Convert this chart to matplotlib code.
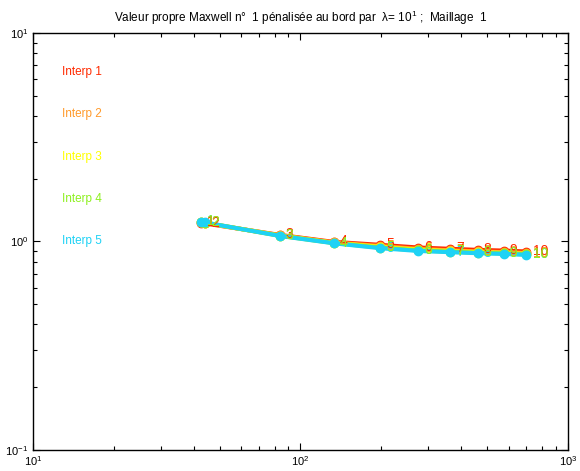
import numpy as np
import matplotlib
matplotlib.use("Agg")
import matplotlib.pyplot as plt

plt.rcParams["font.family"] = ["Liberation Sans", "DejaVu Sans"]
plt.rcParams["mathtext.default"] = "regular"

# =====================
# Data
# =====================

dof = [42.5, 43.8, 83.5, 133, 199, 276, 362, 460, 575, 700]

interp1 = [1.227, 1.22, 1.074, 0.994, 0.962, 0.934, 0.921, 0.910, 0.903, 0.894]
interp2 = [1.235, 1.226, 1.070, 0.988, 0.950, 0.920, 0.906, 0.895, 0.888, 0.879]
interp3 = [1.238, 1.229, 1.067, 0.985, 0.940, 0.912, 0.898, 0.888, 0.880, 0.871]
interp4 = [1.242, 1.231, 1.065, 0.982, 0.933, 0.905, 0.892, 0.882, 0.875, 0.866]
interp5 = [1.245, 1.233, 1.063, 0.980, 0.928, 0.900, 0.888, 0.878, 0.871, 0.862]

series = [interp1, interp2, interp3, interp4, interp5]
names = ["Interp 1", "Interp 2", "Interp 3", "Interp 4", "Interp 5"]
colors = ["#ff2a00", "#ff9a2a", "#ffff00", "#8ef020", "#1ed2f5"]

point_labels = [str(i + 1) for i in range(len(dof))]

# =====================
# Plot
# =====================

fig = plt.figure(figsize=(5.8, 4.71), dpi=100)
ax = fig.add_axes([0.057, 0.045, 0.922, 0.885])

for vals, col in zip(series, colors):
    ax.plot(dof, vals, "-o", color=col, lw=3, ms=6,
            markerfacecolor=col, markeredgecolor=col, zorder=3)

# point numbers, green ones drawn last so they sit on top
label_order = [2, 4, 1, 0, 3]
for n, k in enumerate(label_order):
    vals, col = series[k], colors[k]
    for x, y, lab in zip(dof, vals, point_labels):
        ax.text(x * 1.055, y * 1.005, lab, color=col, fontsize=10,
                ha="left", va="center", zorder=4 + n * 0.1)

for i, (name, col) in enumerate(zip(names, colors)):
    ax.text(0.054, 0.906 - i * 0.1015, name, color=col, fontsize=8.5,
            transform=ax.transAxes, va="center", ha="left")

ax.set_xscale("log")
ax.set_yscale("log")
ax.set_xlim(10, 1000)
ax.set_ylim(0.1, 10)

ax.tick_params(which="both", direction="in", top=True, right=True,
               labelsize=8, width=0.8)
ax.tick_params(which="major", length=5)
ax.tick_params(which="minor", length=3)
for s in ax.spines.values():
    s.set_linewidth(1.0)

ax.set_title(r"Valeur propre Maxwell n°  1 pénalisée au bord par  λ= 10$^1$ ;  Maillage  1",
             fontsize=8.5, pad=8)

plt.savefig("out.png", dpi=100)
